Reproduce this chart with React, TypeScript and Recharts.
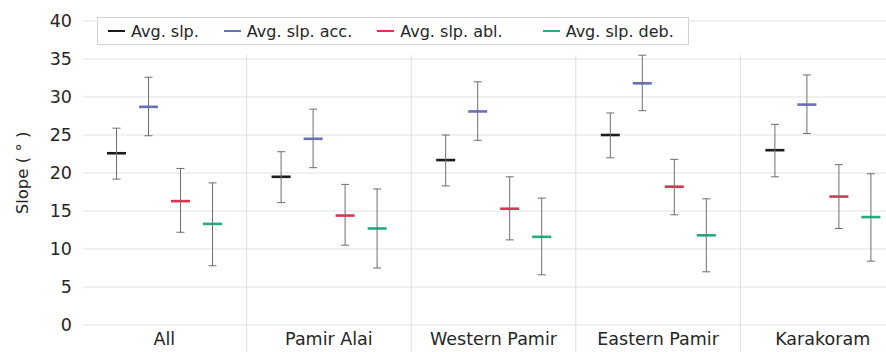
import React from 'react';
import { ComposedChart, Bar, ErrorBar, XAxis, YAxis, CartesianGrid, Legend } from 'recharts';

const categories = ['All', 'Pamir Alai', 'Western Pamir', 'Eastern Pamir', 'Karakoram'];

const avgSlp = [22.6, 19.5, 21.7, 25.0, 23.0];
const avgSlpLow = [19.2, 16.1, 18.3, 22.0, 19.5];
const avgSlpHigh = [25.9, 22.8, 25.0, 27.9, 26.4];

const avgAcc = [28.7, 24.5, 28.1, 31.8, 29.0];
const avgAccLow = [24.9, 20.7, 24.3, 28.2, 25.2];
const avgAccHigh = [32.6, 28.4, 32.0, 35.5, 32.9];

const avgAbl = [16.3, 14.4, 15.3, 18.2, 16.9];
const avgAblLow = [12.2, 10.5, 11.2, 14.5, 12.7];
const avgAblHigh = [20.6, 18.5, 19.5, 21.8, 21.1];

const avgDeb = [13.3, 12.7, 11.6, 11.8, 14.2];
const avgDebLow = [7.8, 7.5, 6.6, 7.0, 8.4];
const avgDebHigh = [18.7, 17.9, 16.7, 16.6, 19.9];

const yTicks = [0, 5, 10, 15, 20, 25, 30, 35, 40];

const series = [
  { key: 'slp', name: 'Avg. slp.' },
  { key: 'acc', name: 'Avg. slp. acc.' },
  { key: 'abl', name: 'Avg. slp. abl.' },
  { key: 'deb', name: 'Avg. slp. deb.' },
];
const COLORS: Record<string, string> = {
  slp: '#1c1c1c',
  acc: '#6670bb',
  abl: '#dc3450',
  deb: '#22ad7c',
};

const err = (v: number, lo: number, hi: number) => [v - lo, hi - v];

const data = categories.map((name, i) => ({
  name,
  slp: avgSlp[i],
  slpErr: err(avgSlp[i], avgSlpLow[i], avgSlpHigh[i]),
  acc: avgAcc[i],
  accErr: err(avgAcc[i], avgAccLow[i], avgAccHigh[i]),
  abl: avgAbl[i],
  ablErr: err(avgAbl[i], avgAblLow[i], avgAblHigh[i]),
  deb: avgDeb[i],
  debErr: err(avgDeb[i], avgDebLow[i], avgDebHigh[i]),
}));

const W = 905;
const H = 352;
const Y_AXIS_W = 82;
const BAND = (W - Y_AXIS_W) / categories.length;
const SEP_TOP = 55;

const FONT = '"DejaVu Sans", sans-serif';

// short horizontal mark at the mean value
const Median = (props: any) => {
  const { x, y, width, fill } = props;
  if (y == null || isNaN(y)) return null;
  return <line x1={x} x2={x + width} y1={y} y2={y} stroke={fill} strokeWidth={2.6} />;
};

const CategoryTick = (props: any) => {
  const { x, y, payload, index } = props;
  const left = x - BAND / 2;
  return (
    <g>
      {index > 0 && (
        <line x1={left} x2={left} y1={SEP_TOP} y2={H} stroke="#dedede" strokeWidth={1} />
      )}
      <text x={x} y={y + 12} textAnchor="middle" fill="#262626" fontSize={17.5} fontFamily={FONT}>
        {payload.value}
      </text>
    </g>
  );
};

const LegendBox = () => (
  <div
    style={{
      display: 'flex',
      alignItems: 'center',
      height: 26,
      width: 580,
      paddingLeft: 10,
      border: '1px solid #d4d4d4',
      background: '#fff',
      fontFamily: FONT,
      fontSize: 16,
      color: '#262626',
      boxSizing: 'content-box',
    }}
  >
    {series.map((s, i) => (
      <div
        key={s.key}
        style={{ display: 'flex', alignItems: 'center', marginRight: i === 2 ? 40 : 25 }}
      >
        <span
          style={{ display: 'inline-block', width: 17, height: 2, background: COLORS[s.key], marginRight: 6 }}
        />
        <span style={{ whiteSpace: 'nowrap' }}>{s.name}</span>
      </div>
    ))}
  </div>
);

export default function App() {
  return (
    <div
      style={{
        position: 'fixed',
        left: 0,
        top: 0,
        width: 886,
        height: 352,
        overflow: 'hidden',
        background: '#fff',
        fontFamily: FONT,
      }}
    >
      <ComposedChart
        width={W}
        height={H}
        data={data}
        margin={{ top: 21, right: 0, bottom: 0, left: 0 }}
        barSize={19}
        barGap={13}
      >
        <CartesianGrid horizontal vertical={false} stroke="#e2e2e2" />
        <XAxis
          dataKey="name"
          height={27}
          axisLine={false}
          tickLine={false}
          interval={0}
          tick={<CategoryTick />}
        />
        <YAxis
          width={Y_AXIS_W}
          domain={[0, 40]}
          ticks={yTicks}
          axisLine={false}
          tickLine={false}
          tickMargin={4}
          tick={{ fill: '#262626', fontSize: 17.5, fontFamily: FONT }}
          label={{
            value: 'Slope ( ° )',
            angle: -90,
            position: 'insideLeft',
            offset: 22,
            style: { fill: '#262626', fontSize: 16.5, fontFamily: FONT, textAnchor: 'middle' },
          }}
        />
        <Legend
          layout="horizontal"
          verticalAlign="middle"
          align="center"
          wrapperStyle={{ top: 17, left: 97, width: 'auto' }}
          content={() => <LegendBox />}
        />
        {series.map((s) => (
          <Bar
            key={s.key}
            dataKey={s.key}
            name={s.name}
            fill={COLORS[s.key]}
            shape={<Median />}
            isAnimationActive={false}
          >
            <ErrorBar
              dataKey={`${s.key}Err`}
              width={4}
              stroke="#6e6e6e"
              strokeWidth={1}
              direction="y"
              isAnimationActive={false}
            />
          </Bar>
        ))}
      </ComposedChart>
    </div>
  );
}
